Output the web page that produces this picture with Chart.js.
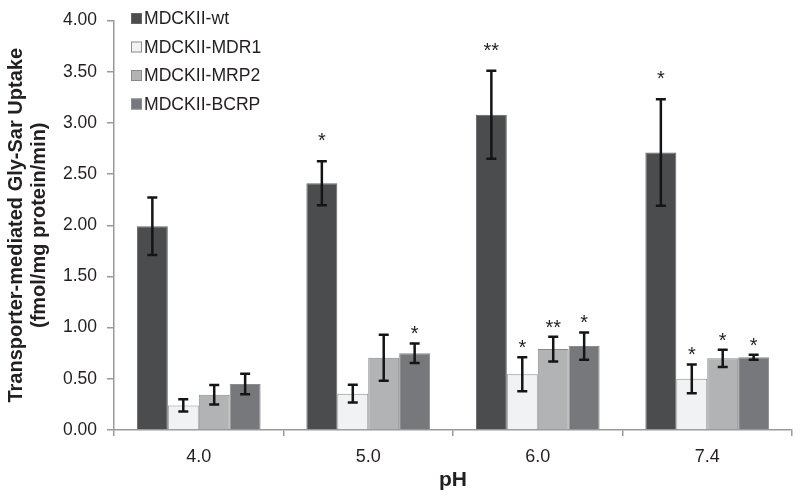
<!DOCTYPE html>
<html>
<head>
<meta charset="utf-8">
<script src="https://cdn.jsdelivr.net/npm/chart.js@4/dist/chart.umd.min.js"></script>
<style>
  html, body { margin: 0; padding: 0; background: #fff; }
  #wrap { width: 800px; height: 498px; }
</style>
</head>
<body>
<div id="wrap"><canvas id="c" width="800" height="498"></canvas></div>
<script>
// ---- data ----
const categories = ['4.0', '5.0', '6.0', '7.4'];
const seriesNames = ['MDCKII-wt', 'MDCKII-MDR1', 'MDCKII-MRP2', 'MDCKII-BCRP'];

const wtValues   = [1.99, 2.41, 3.08, 2.71];
const wtErrors   = [0.28, 0.215, 0.43, 0.52];
const wtStars    = ['', '*', '**', '*'];

const mdr1Values = [0.24, 0.355, 0.545, 0.50];
const mdr1Errors = [0.06, 0.087, 0.166, 0.14];
const mdr1Stars  = ['', '', '*', '*'];

const mrp2Values = [0.345, 0.705, 0.79, 0.70];
const mrp2Errors = [0.095, 0.225, 0.12, 0.085];
const mrp2Stars  = ['', '', '**', '*'];

const bcrpValues = [0.45, 0.75, 0.82, 0.71];
const bcrpErrors = [0.10, 0.095, 0.133, 0.025];
const bcrpStars  = ['', '*', '*', '*'];

const yTicks = [0, 0.5, 1, 1.5, 2, 2.5, 3, 3.5, 4];

const errorSets = [wtErrors, mdr1Errors, mrp2Errors, bcrpErrors];
const starSets  = [wtStars, mdr1Stars, mrp2Stars, bcrpStars];

// ---- style ----
const FONT = "'Liberation Sans', Arial, Helvetica, sans-serif";
const TEXT = '#231f20';
const AXIS = '#9a9a9a';
const fills = ['#4b4c4e', '#f1f2f4', '#b2b3b5', '#77787b'];
const borders = ['#636466', '#8c8d8f', '#88898b', '#8a8b8d'];
const starGaps = [25, 14, 14, 14];

const errorBarPlugin = {
  id: 'errorBars',
  afterDatasetsDraw(chart) {
    const ctx = chart.ctx;
    const y = chart.scales.y;
    ctx.save();
    chart.data.datasets.forEach((ds, di) => {
      const meta = chart.getDatasetMeta(di);
      meta.data.forEach((bar, i) => {
        const v = ds.data[i];
        const e = errorSets[di][i];
        const yt = y.getPixelForValue(v + e);
        const yb = y.getPixelForValue(v - e);
        const x = bar.x;
        ctx.strokeStyle = '#151515';
        ctx.lineWidth = 2.5;
        ctx.lineCap = 'butt';
        ctx.beginPath();
        ctx.moveTo(x, yt); ctx.lineTo(x, yb);
        ctx.moveTo(x - 5, yt); ctx.lineTo(x + 5, yt);
        ctx.moveTo(x - 5, yb); ctx.lineTo(x + 5, yb);
        ctx.stroke();
        const s = starSets[di][i];
        if (s) {
          ctx.fillStyle = TEXT;
          ctx.font = '20px ' + FONT;
          ctx.textAlign = 'center';
          ctx.textBaseline = 'alphabetic';
          const cy = yt - starGaps[di];
          ctx.fillText(s, x, cy + 11);
        }
      });
    });
    ctx.restore();
  }
};

const legendPlugin = {
  id: 'customLegend',
  afterDraw(chart) {
    const ctx = chart.ctx;
    ctx.save();
    const rows = [18.5, 47, 75.5, 104];
    chart.data.datasets.forEach((ds, di) => {
      const cy = rows[di];
      ctx.fillStyle = fills[di];
      ctx.fillRect(131, cy - 5.5, 11, 11);
      ctx.strokeStyle = borders[di];
      ctx.lineWidth = 1;
      ctx.strokeRect(131.5, cy - 5, 10, 10);
      ctx.fillStyle = TEXT;
      ctx.font = '17.6px ' + FONT;
      ctx.textAlign = 'left';
      ctx.textBaseline = 'middle';
      ctx.fillText(ds.label, 144, cy + 1);
    });
    ctx.restore();
  }
};

const datasets = [wtValues, mdr1Values, mrp2Values, bcrpValues].map((vals, i) => ({
  label: seriesNames[i],
  data: vals,
  backgroundColor: fills[i],
  borderColor: borders[i],
  borderWidth: 1,
  borderSkipped: 'bottom',
  categoryPercentage: 0.73,
  barPercentage: 1.0
}));

new Chart(document.getElementById('c'), {
  type: 'bar',
  data: { labels: categories, datasets },
  plugins: [errorBarPlugin, legendPlugin],
  options: {
    responsive: false,
    animation: false,
    devicePixelRatio: 1,
    layout: { padding: { top: 14, right: 8, left: 0, bottom: 0 } },
    plugins: {
      legend: { display: false },
      tooltip: { enabled: false }
    },
    scales: {
      x: {
        offset: true,
        grid: {
          display: true,
          offset: true,
          drawOnChartArea: false,
          drawTicks: true,
          tickLength: 6,
          color: AXIS,
          lineWidth: 1.5
        },
        border: { display: true, color: AXIS, width: 1.5 },
        ticks: { color: TEXT, font: { family: FONT, size: 18 }, padding: 10 },
        title: {
          display: true,
          text: 'pH',
          color: TEXT,
          font: { family: FONT, size: 21, weight: 'bold' },
          padding: { top: 0, bottom: 5 }
        },
        afterFit(scale) { scale.height = 68; }
      },
      y: {
        min: 0,
        max: 4,
        afterBuildTicks(scale) { scale.ticks = yTicks.map(v => ({ value: v })); },
        grid: {
          display: true,
          drawOnChartArea: false,
          drawTicks: true,
          tickLength: 7,
          color: AXIS,
          lineWidth: 1.5
        },
        border: { display: true, color: AXIS, width: 1.5 },
        ticks: {
          color: TEXT,
          font: { family: FONT, size: 17.5 },
          padding: 10,
          callback: v => Number(v).toFixed(2)
        },
        title: {
          display: true,
          text: ['Transporter-mediated Gly-Sar Uptake', '(fmol/mg protein/min)'],
          color: TEXT,
          font: { family: FONT, size: 20, weight: 'bold', lineHeight: 1.15 },
          padding: { top: 5, bottom: 0 }
        },
        afterFit(scale) { scale.width = 114; }
      }
    }
  }
});
</script>
</body>
</html>
